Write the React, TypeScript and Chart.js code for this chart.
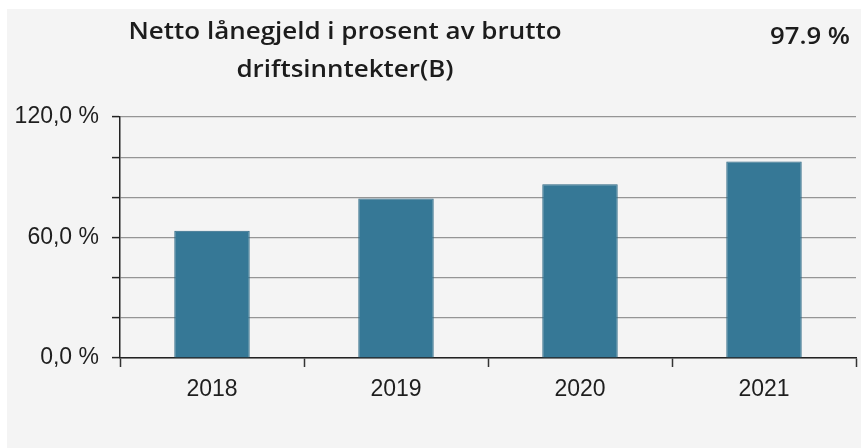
import React, { useEffect, useRef } from "react";
import { Chart, registerables } from "chart.js";

Chart.register(...registerables);

const categories = ["2018", "2019", "2020", "2021"];
const values = [63.4, 79.4, 86.5, 97.9];
const titleLines = ["Netto lånegjeld i prosent av brutto", "driftsinntekter(B)"];
const latestLabel = "97.9 %";
const yLabelValues = [0, 60, 120];

function drawFitted(ctx: any, text: string, x: number, y: number, targetW: number, align: string) {
  const w = ctx.measureText(text).width;
  const sx = targetW / w;
  ctx.save();
  ctx.translate(x, y);
  ctx.scale(sx, 1);
  ctx.textAlign = align;
  ctx.fillText(text, 0, 0);
  ctx.restore();
}

const bgPlugin = {
  id: "bgPlugin",
  beforeDraw(chart: any) {
    const ctx = chart.ctx;
    ctx.save();
    ctx.fillStyle = "#ffffff";
    ctx.fillRect(0, 0, chart.width, chart.height);
    ctx.fillStyle = "#f4f4f4";
    ctx.fillRect(7, 9, chart.width - 7, chart.height - 9);
    ctx.restore();
  },
  afterDraw(chart: any) {
    const ctx = chart.ctx;
    ctx.save();
    ctx.fillStyle = "#1c1c1c";
    ctx.font = "600 23px 'Open Sans'";
    ctx.textBaseline = "alphabetic";
    drawFitted(ctx, titleLines[0], 345, 39, 433, "center");
    const w0 = ctx.measureText(titleLines[0]).width;
    const sx = 433 / w0;
    const w1 = ctx.measureText(titleLines[1]).width * sx;
    drawFitted(ctx, titleLines[1], 345, 77, w1, "center");
    drawFitted(ctx, latestLabel, 850, 44, 80, "right");
    ctx.restore();
  },
};

export default function App() {
  const ref = useRef<HTMLCanvasElement | null>(null);
  useEffect(() => {
    if (!ref.current) return;
    const chart = new Chart(ref.current, {
      type: "bar",
      data: {
        labels: categories,
        datasets: [
          {
            data: values,
            backgroundColor: "#367896",
            borderColor: "#2a6682",
            borderWidth: 1,
            categoryPercentage: 1,
            barPercentage: 0.41,
          },
        ],
      },
      options: {
        animation: false,
        responsive: false,
        layout: { padding: { top: 117, left: 0, right: 5, bottom: 0 } },
        plugins: { legend: { display: false }, title: { display: false }, tooltip: { enabled: false } },
        scales: {
          x: {
            offset: true,
            afterFit: (s: any) => { s.height = 90; },
            grid: { display: true, drawOnChartArea: false, offset: true, tickLength: 9, tickColor: "#333", tickWidth: 1.5 },
            border: { display: true, color: "#222", width: 1.5 },
            ticks: { color: "#1e1e1e", padding: 9, font: { family: "'Liberation Sans', Arial", size: 23 } },
          },
          y: {
            min: 0,
            max: 120,
            afterFit: (s: any) => { s.width = 120; },
            grid: { color: "#959595", lineWidth: 1.2, tickLength: 8, tickColor: "#222", tickWidth: 1.5 },
            border: { display: true, color: "#222", width: 1.5 },
            ticks: {
              stepSize: 20,
              autoSkip: false,
              padding: 13,
              color: "#1e1e1e",
              font: { family: "'Liberation Sans', Arial", size: 23 },
              callback: (v: any) => (yLabelValues.includes(Number(v)) ? Number(v).toFixed(1).replace(".", ",") + " %" : ""),
            },
          },
        },
      },
      plugins: [bgPlugin],
    });
    return () => chart.destroy();
  }, []);
  return (
    <div style={{ position: "absolute", left: 0, top: 0, width: 861, height: 448 }}>
      <canvas ref={ref} width={861} height={448} />
    </div>
  );
}
